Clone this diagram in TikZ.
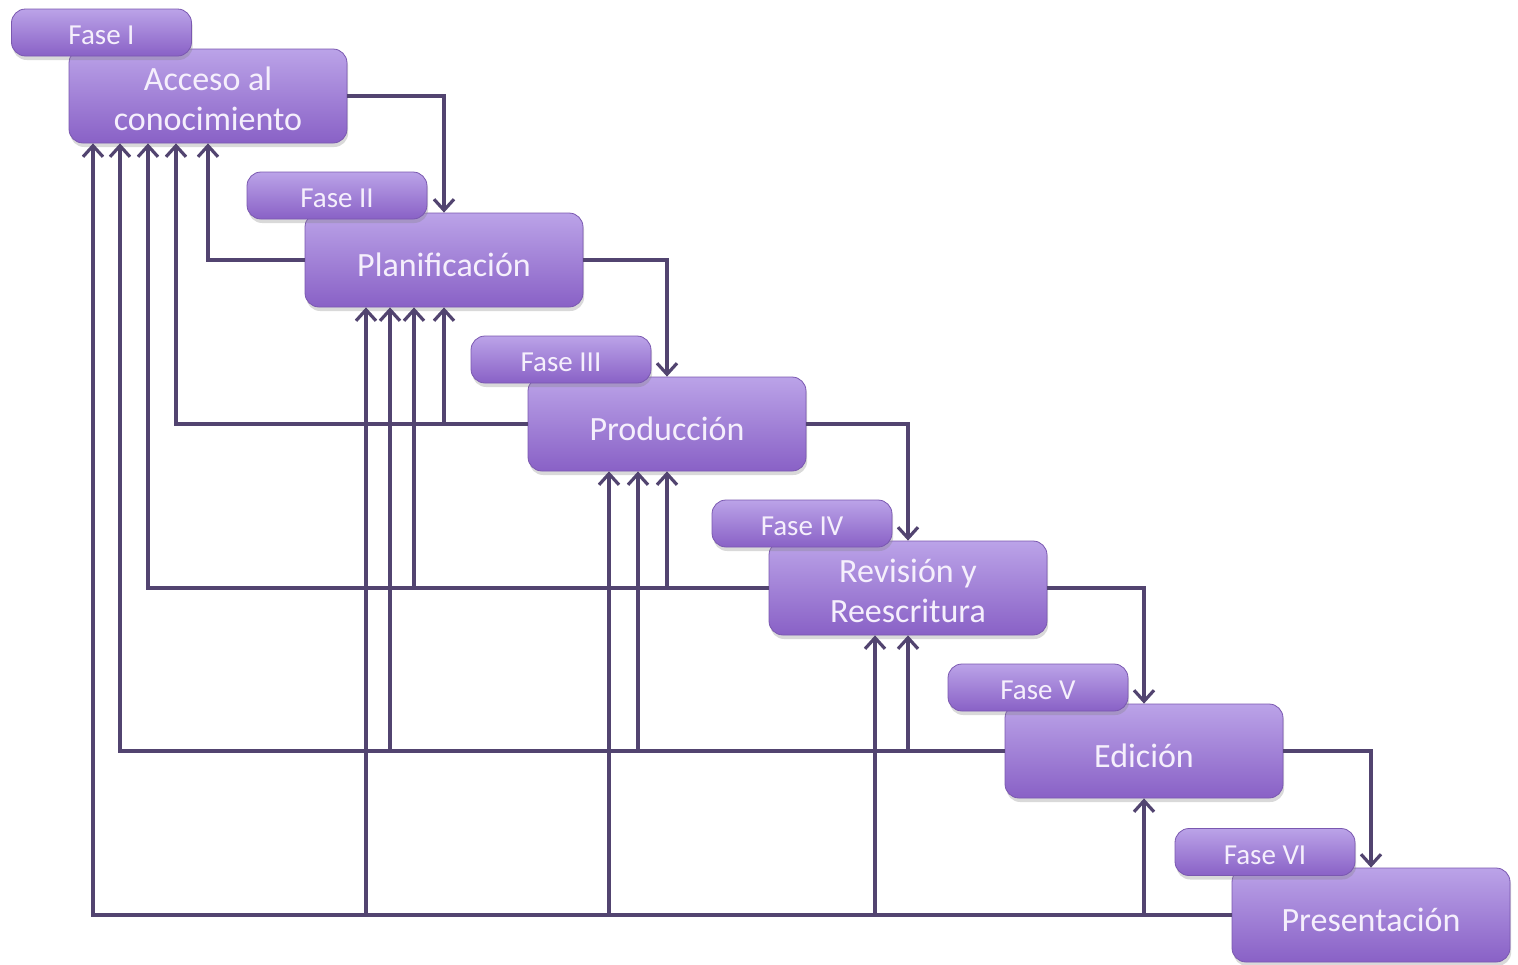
\documentclass[tikz,border=0pt]{standalone}
\usepackage{fontspec}
\setmainfont{Carlito}
\usetikzlibrary{arrows.meta,shadows,calc}
\definecolor{boxtop}{HTML}{BBA3E8}
\definecolor{boxbot}{HTML}{8961C6}
\definecolor{boxline}{HTML}{7A58B0}
\definecolor{linec}{HTML}{524470}
\definecolor{txt}{HTML}{F5EFFC}
\newcommand{\topstrut}{\rule{0pt}{17pt}}
\newcommand{\twostrut}{\rule{0pt}{15pt}}
\tikzset{
  basebox/.style={rounded corners=7pt, top color=boxtop, bottom color=boxbot,
    draw=boxline, line width=0.4pt, inner sep=0pt, align=center, text=txt,
    drop shadow={opacity=0.3, shadow xshift=0.6pt, shadow yshift=-2pt}},
  mainbox/.style={basebox, minimum width=139pt, minimum height=47pt,
    font=\fontsize{17}{20}\selectfont},
  fasebox/.style={basebox, minimum width=90pt, minimum height=23.5pt,
    font=\fontsize{14.5}{17}\selectfont,
    execute at begin node={\rule{0pt}{12.5pt}}},
  link/.style={draw=linec, line width=2pt,
    -{Straight Barb[length=5.5pt,width=10pt,line width=1.6pt]}},
}
\begin{document}
\begin{tikzpicture}[x=0.5pt,y=-0.5pt]
\useasboundingbox (0,0) rectangle (1518,964);
% main boxes
\node[mainbox] (A) at (208,96)  {\twostrut Acceso al\\conocimiento};
\node[mainbox] (P) at (444,260) {\topstrut Planificación};
\node[mainbox] (R) at (667,424) {\topstrut Producción};
\node[mainbox] (V) at (908,588) {\twostrut Revisión y\\Reescritura};
\node[mainbox] (E) at (1144,751) {\topstrut Edición};
\node[mainbox] (F) at (1371,915) {\topstrut Presentación};
% phase labels
\node[fasebox] (f1) at (101.5,32.5) {Fase I};
\node[fasebox] (f2) at (337,195.5) {Fase II};
\node[fasebox] (f3) at (561,359.5) {Fase III};
\node[fasebox] (f4) at (802,523.5) {Fase IV};
\node[fasebox] (f5) at (1038,687.5) {Fase V};
\node[fasebox] (f6) at (1265,852) {Fase VI};
% arrow end points
\coordinate (a2) at ($(A.south)+(-32,0)$);
\coordinate (a3) at ($(A.south)+(-60,0)$);
\coordinate (a4) at ($(A.south)+(-88,0)$);
\coordinate (a5) at ($(A.south)+(-115,0)$);
\coordinate (p3) at ($(P.south)+(-30,0)$);
\coordinate (p4) at ($(P.south)+(-54,0)$);
\coordinate (p5) at ($(P.south)+(-78,0)$);
\coordinate (r4) at ($(R.south)+(-29,0)$);
\coordinate (r5) at ($(R.south)+(-58,0)$);
\coordinate (v5) at ($(V.south)+(-33,0)$);
% forward arrows
\draw[link] (A.east) -| (P.north);
\draw[link] (P.east) -| (R.north);
\draw[link] (R.east) -| (V.north);
\draw[link] (V.east) -| (E.north);
\draw[link] (E.east) -| (F.north);
% feedback from Planificacion
\draw[link] (P.west) -| (A.south);
% feedback from Produccion
\draw[link] (R.west) -| (a2);
\draw[link] (P.south |- R.west) -- (P.south);
% feedback from Revision
\draw[link] (V.west) -| (a3);
\draw[link] (p3 |- V.west) -- (p3);
\draw[link] (R.south |- V.west) -- (R.south);
% feedback from Edicion
\draw[link] (E.west) -| (a4);
\draw[link] (p4 |- E.west) -- (p4);
\draw[link] (r4 |- E.west) -- (r4);
\draw[link] (V.south |- E.west) -- (V.south);
% feedback from Presentacion
\draw[link] (F.west) -| (a5);
\draw[link] (p5 |- F.west) -- (p5);
\draw[link] (r5 |- F.west) -- (r5);
\draw[link] (v5 |- F.west) -- (v5);
\draw[link] (E.south |- F.west) -- (E.south);
\end{tikzpicture}
\end{document}
